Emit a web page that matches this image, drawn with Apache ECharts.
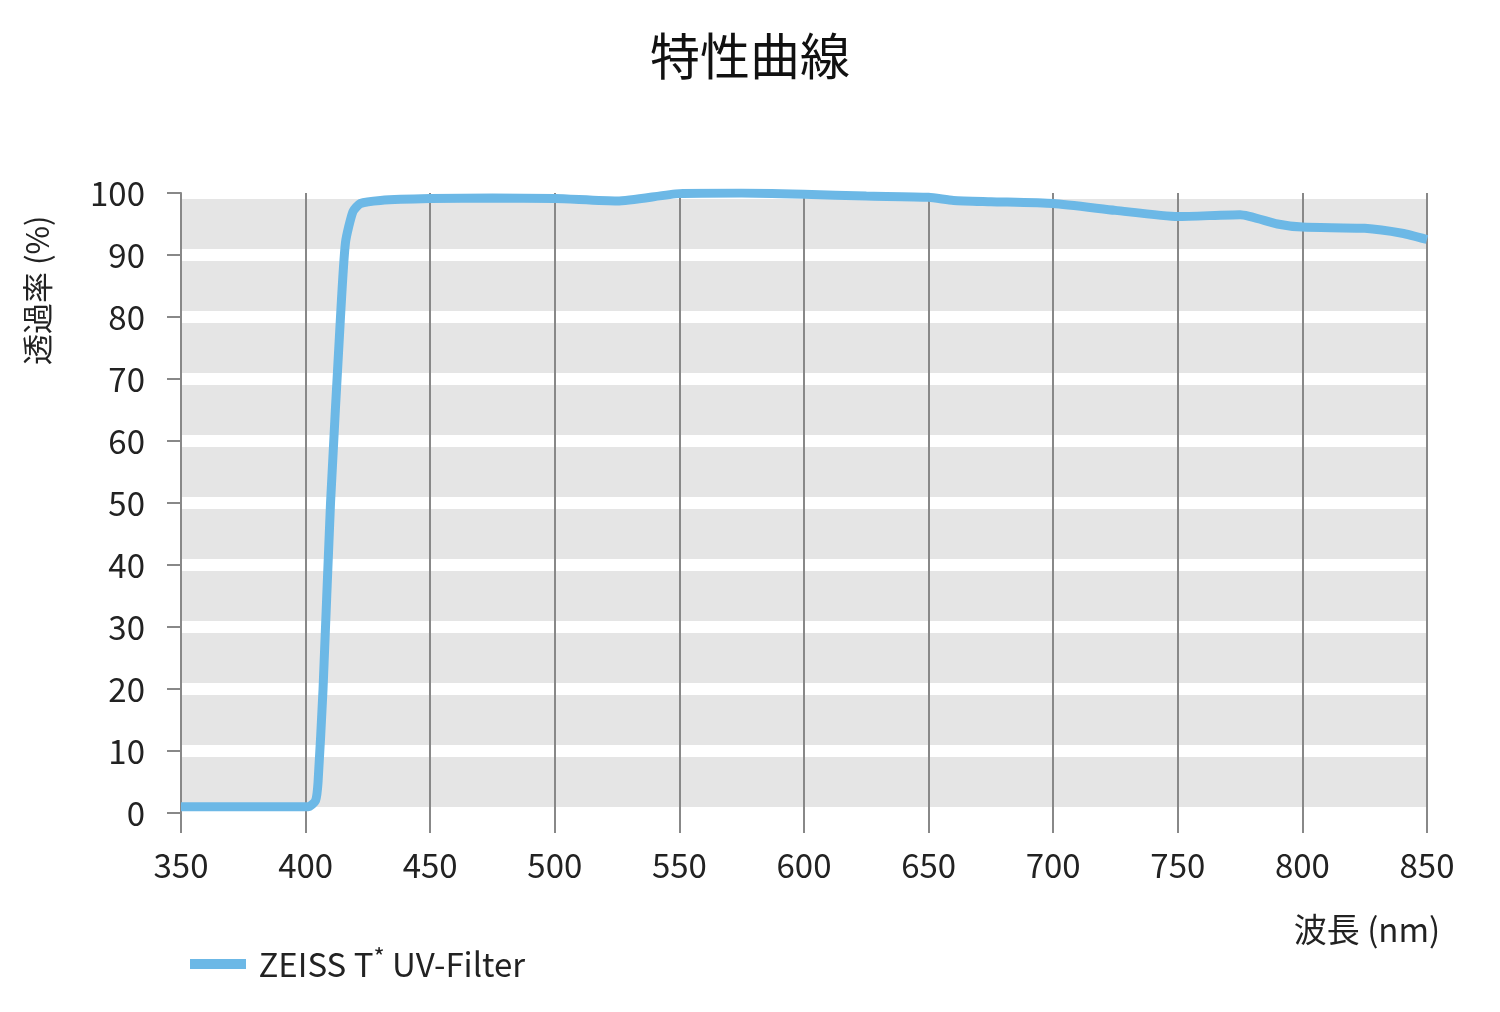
<!DOCTYPE html>
<html><head><meta charset="utf-8">
<script src="https://cdn.jsdelivr.net/npm/echarts@6/dist/echarts.min.js"></script>
<style>body{margin:0;background:#fff}#main{width:1500px;height:1012px}</style>
</head><body><div id="main"></div>
<script>
var wavelengths = [350,380,401,404,405,407,410,414,416,419,422,430,450,475,500,525,550,575,600,625,650,660,675,700,725,750,775,790,800,825,840,850];
var transmission = [1,1,1,2,5,20,50,80,92,97,98.3,98.8,99.1,99.2,99.1,98.7,99.9,100,99.8,99.5,99.3,98.8,98.6,98.3,97.2,96.2,96.5,95,94.5,94.3,93.5,92.5];
var seriesName = 'ZEISS T* UV-Filter';

var fontFam = '"Noto Sans CJK JP","Open Sans",sans-serif';
var chart = echarts.init(document.getElementById('main'));
chart.setOption({
  animation:false,
  textStyle:{fontFamily:fontFam,color:'#222'},
  title:{text:'特性曲線',left:'center',top:26,textStyle:{fontSize:50,fontWeight:'normal',color:'#111',fontFamily:fontFam}},
  legend:{left:185,top:940,itemWidth:56,itemHeight:10,itemGap:10,icon:'rect',
    formatter:function(){return '{a| ZEISS T}{s|*}{a| UV-Filter}';},
    textStyle:{rich:{a:{fontSize:33,color:'#222',fontFamily:fontFam},s:{fontSize:24,color:'#222',verticalAlign:'top',padding:[0,0,14,0]}}}},
  graphic:[{type:'text',x:22,y:365,rotation:Math.PI/2,
    style:{text:'透過率 (%)',fontSize:31,fill:'#222',fontFamily:fontFam}}],
  grid:{left:181,right:73,top:193,bottom:199,show:true,backgroundColor:'#e5e5e5',borderWidth:0},
  xAxis:{type:'value',min:350,max:850,interval:50,
    name:'波長 (nm)',nameLocation:'end',nameGap:0,
    nameTextStyle:{fontSize:33,color:'#222',align:'center',verticalAlign:'top',padding:[100,0,0,-120]},
    axisLine:{show:false},
    axisTick:{show:true,length:20,lineStyle:{color:'#888',width:2}},
    axisLabel:{fontSize:33,color:'#222',margin:36},
    splitLine:{show:true,lineStyle:{color:'#888',width:2}}},
  yAxis:{type:'value',min:0,max:100,interval:10,
    axisLine:{show:true,lineStyle:{color:'#888',width:2}},
    axisTick:{show:true,length:14,lineStyle:{color:'#888',width:2}},
    axisLabel:{fontSize:33,color:'#222',margin:36},
    splitLine:{show:true,lineStyle:{color:'#fff',width:12}}},
  series:[{name:seriesName,type:'line',showSymbol:false,smooth:0.2,
    data:wavelengths.map(function(w,i){return [w,transmission[i]];}),
    lineStyle:{color:'#6cb8e6',width:9},itemStyle:{color:'#6cb8e6'}}]
});
</script></body></html>
